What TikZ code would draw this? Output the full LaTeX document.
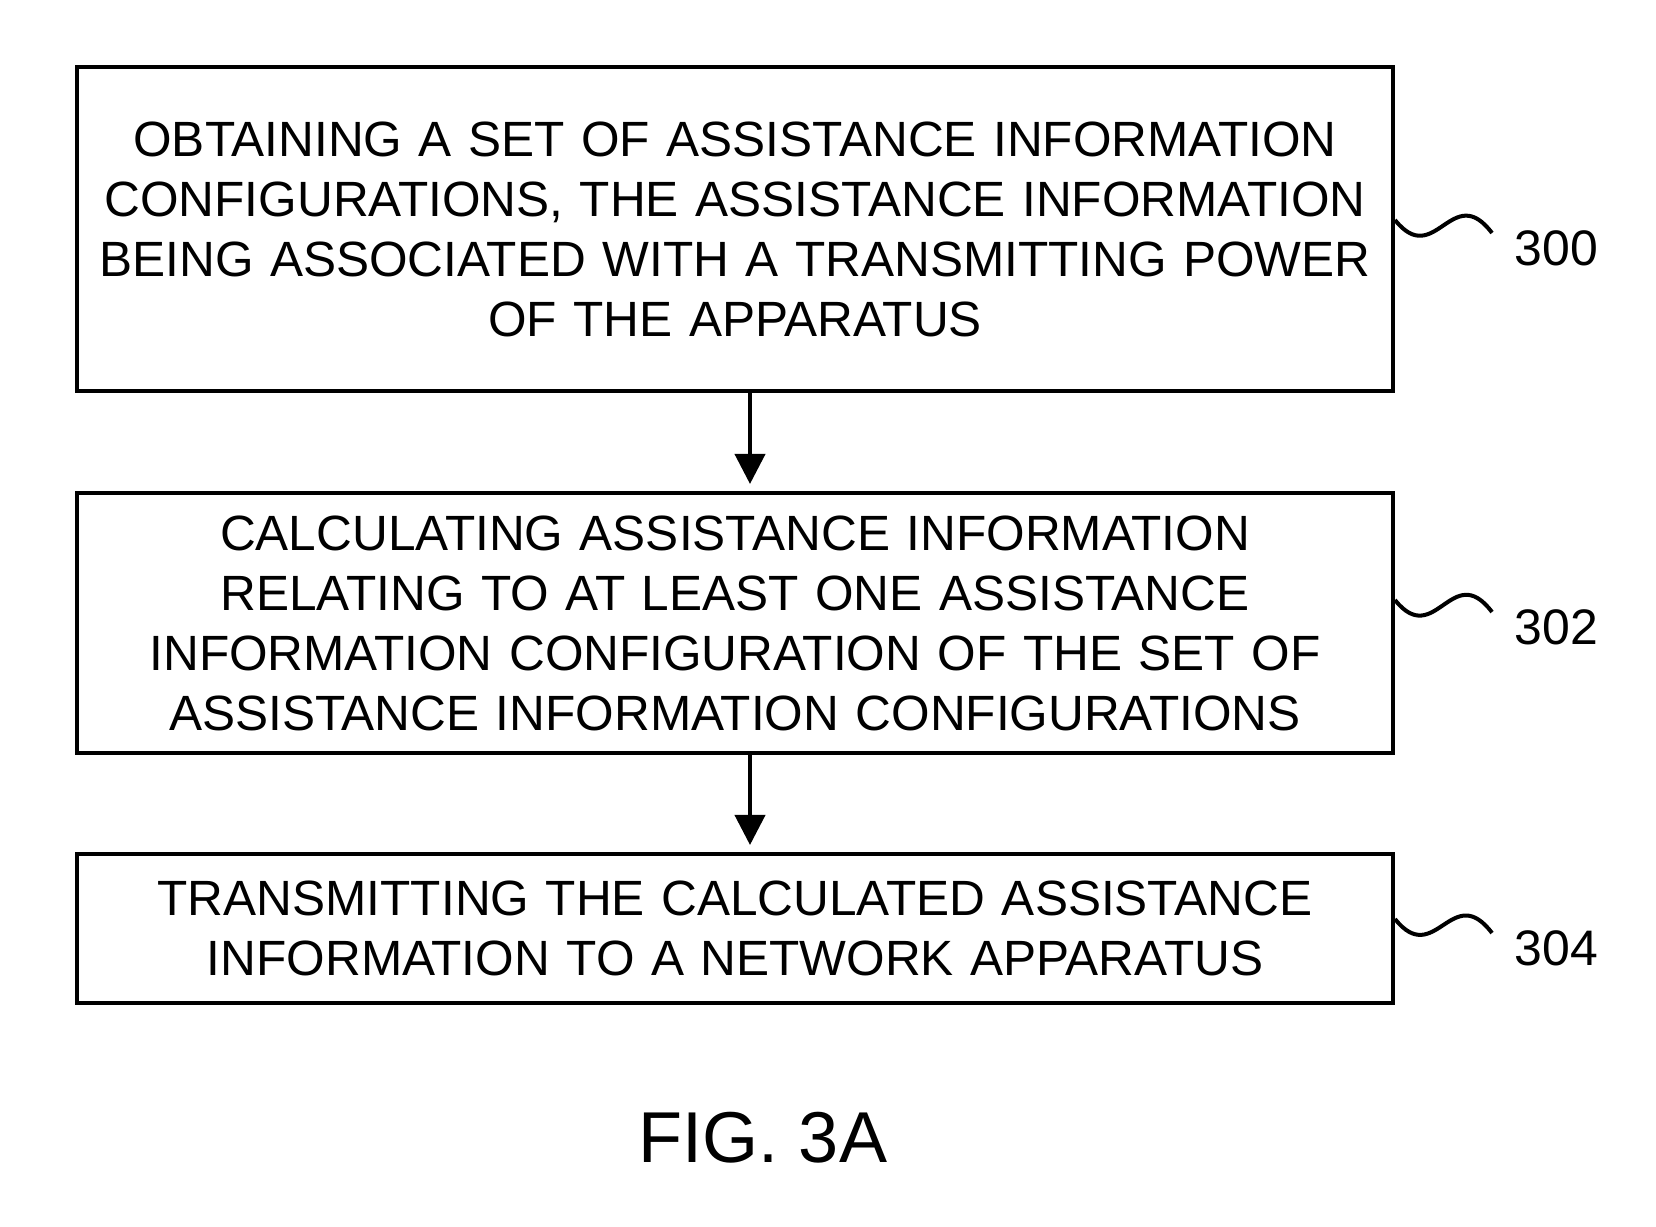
\documentclass[tikz,border=0pt]{standalone}
\usepackage{fontspec}
\setmainfont{Liberation Sans}
\usetikzlibrary{positioning,arrows.meta}
\tikzset{
  flow/.style={-{Triangle[length=0.3cm,width=0.3cm]},line width=1.14pt,shorten >=2pt},
  stepbox/.style={draw,line width=1.14pt,minimum width=13.16cm,text width=12.9cm,
    align=center,inner sep=0pt,font=\fontsize{14.1}{17.07}\selectfont},
  reflabel/.style={anchor=west,inner sep=0pt,font=\fontsize{14.2}{17.07}\selectfont},
  wave/.style={line width=1.14pt,to path={.. controls +(0.4,-0.5) and +(-0.4,0.53) .. (\tikztotarget)}}
}
\begin{document}
\begin{tikzpicture}
  \useasboundingbox (0,0) rectangle (16.56,-12.26);
  \node[stepbox,minimum height=3.24cm] (step300) at (7.35,-2.29)
    {OBTAINING A SET OF ASSISTANCE INFORMATION\\CONFIGURATIONS, THE ASSISTANCE INFORMATION\\BEING ASSOCIATED WITH A TRANSMITTING POWER\\OF THE APPARATUS};
  \node[stepbox,minimum height=2.60cm,below=0.98cm of step300] (step302)
    {CALCULATING ASSISTANCE INFORMATION\\RELATING TO AT LEAST ONE ASSISTANCE\\INFORMATION CONFIGURATION OF THE SET OF\\ASSISTANCE INFORMATION CONFIGURATIONS};
  \node[stepbox,minimum height=1.49cm,below=0.97cm of step302] (step304)
    {TRANSMITTING THE CALCULATED ASSISTANCE\\INFORMATION TO A NETWORK APPARATUS};
  \draw[flow] ([xshift=0.15cm]step300.south) -- ([xshift=0.15cm]step302.north);
  \draw[flow] ([xshift=0.15cm]step302.south) -- ([xshift=0.15cm]step304.north);

  \node[reflabel] (ref300) at ([xshift=1.19cm,yshift=-0.19cm]step300.east) {300};
  \node[reflabel] (ref302) at ([xshift=1.19cm,yshift=-0.04cm]step302.east) {302};
  \node[reflabel] (ref304) at ([xshift=1.19cm,yshift=-0.195cm]step304.east) {304};
  \draw[wave] ([yshift=0.09cm]step300.east) to ([xshift=-0.22cm,yshift=0.15cm]ref300.west);
  \draw[wave] ([yshift=0.23cm]step302.east) to ([xshift=-0.22cm,yshift=0.15cm]ref302.west);
  \draw[wave] ([yshift=0.095cm]step304.east) to ([xshift=-0.22cm,yshift=0.15cm]ref304.west);

  \node[font=\fontsize{20.5}{24}\selectfont] (caption) at (7.63,-11.38) {FIG. 3A};
\end{tikzpicture}
\end{document}
